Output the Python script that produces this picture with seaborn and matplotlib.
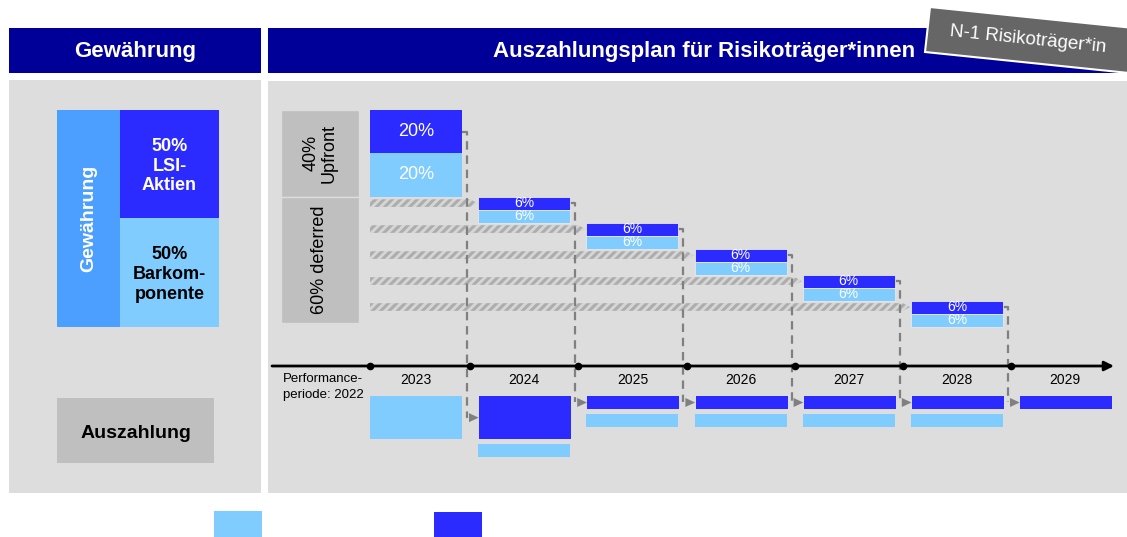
import numpy as np
import matplotlib
matplotlib.use("Agg")
import matplotlib.pyplot as plt
from matplotlib.patches import Rectangle, Polygon
import seaborn as sns

# ---------------- data ----------------
years = [2023, 2024, 2025, 2026, 2027, 2028, 2029]
grant_split = [50, 50]                      # LSI-Aktien, Barkomponente
grant_labels = ["50%\nLSI-\nAktien", "50%\nBarkom-\nponente"]
upfront_lsi = 20
upfront_cash = 20
deferred_years = [2024, 2025, 2026, 2027, 2028]
deferred_lsi = [6, 6, 6, 6, 6]
deferred_cash = [6, 6, 6, 6, 6]
payout_cash = [20, 6, 6, 6, 6, 6, 0]
payout_lsi = [0, 20, 6, 6, 6, 6, 6]
section_labels = ["40%\nUpfront", "60% deferred"]
section_sizes = [40, 60]

# ---------------- style ----------------
sns.set_theme(style="white")
plt.rcParams["font.family"] = ["Liberation Sans", "DejaVu Sans"]
plt.rcParams["text.color"] = "black"
plt.rcParams["hatch.linewidth"] = 2.2

NAVY = "#000099"
DARK = "#2b2bff"
LIGHT = "#80ccff"
MID = "#4d9fff"
PANEL = "#dddddd"
BOX = "#bfbfbf"
GREY = "#808080"

W, H = 1127, 537
fig = plt.figure(figsize=(W / 100, H / 100), dpi=100)
fig.patch.set_facecolor("white")

bg = fig.add_axes([0, 0, 1, 1])
bg.set_xlim(0, W)
bg.set_ylim(H, 0)
bg.axis("off")


def px_axes(x0, y0, x1, y1):
    return fig.add_axes([x0 / W, 1 - y1 / H, (x1 - x0) / W, (y1 - y0) / H])


# headers
bg.add_patch(Rectangle((9, 28), 252, 45, color=NAVY, lw=0))
bg.add_patch(Rectangle((268, 28), 859, 45, color=NAVY, lw=0))
bg.text(135, 51, "Gewährung", color="white", fontsize=16, fontweight="bold",
        ha="center", va="center")
bg.text(704, 51, "Auszahlungsplan für Risikoträger*innen", color="white",
        fontsize=16, fontweight="bold", ha="center", va="center")

# legend squares (cut at bottom)
bg.add_patch(Rectangle((214, 511), 48, 30, color=LIGHT, lw=0))
bg.add_patch(Rectangle((434, 512), 48, 30, color=DARK, lw=0))

# vertical scale: px per percent
PXP = 2.165
Y0 = 110


def ylims(top_px, bot_px):
    return (bot_px - Y0) / PXP, (top_px - Y0) / PXP


def yp(px):
    return (px - Y0) / PXP


# ---------------- left panel ----------------
la = px_axes(9, 80, 261, 493)
la.set_xlim(0, 252)
la.set_ylim(*ylims(80, 493))
la.axis("off")
la.add_patch(Rectangle((0, yp(80)), 252, 200, color=PANEL, zorder=0))
la.bar(48, sum(grant_split), bottom=0, width=63, align="edge", color=MID, lw=0, zorder=2)
la.text(79.5, sum(grant_split) / 2, "Gewährung", rotation=90, color="white",
        fontsize=14, fontweight="bold", ha="center", va="center", zorder=3)
bottoms = np.cumsum([0] + grant_split[:-1])
for b, h, lab, col, tcol in zip(bottoms, grant_split, grant_labels,
                                [DARK, LIGHT], ["white", "black"]):
    la.bar(111, h, bottom=b, width=99, align="edge", color=col, lw=0, zorder=2)
    la.text(160.5, b + h / 2 + 1, lab, color=tcol, fontsize=13, fontweight="bold",
            ha="center", va="center", linespacing=1.2, zorder=3)

la.add_patch(Rectangle((48, yp(398)), 157, 65 / PXP, color=BOX, lw=0, zorder=3))
la.text(126.5, yp(433), "Auszahlung", fontsize=14, fontweight="bold", color="black",
        ha="center", va="center", zorder=4)

# ---------------- right panel ----------------
ca = px_axes(268, 81, 1127, 493)
XPY = 108.2  # px per year
X0 = 370


def xv(px):
    return years[0] + (px - X0) / XPY


ca.set_xlim(xv(268), xv(1127))
ca.set_ylim(*ylims(81, 493))
ca.axis("off")
ca.add_patch(Rectangle((xv(268), yp(81)), 10, 200, color=PANEL, zorder=0))

BW = 92 / XPY
px1 = 1 / XPY

# section label boxes
sb = np.cumsum([0] + section_sizes[:-1])
for b, h, lab in zip(sb, section_sizes, section_labels):
    hh_ = h - (1.5 if h == 60 else 0)
    ca.bar(xv(281), hh_, bottom=b, width=78 / XPY, align="edge",
           color=BOX, edgecolor=PANEL, lw=1, zorder=2)
    ca.text(xv(320), b + hh_ / 2, lab, rotation=90, fontsize=13, color="black",
            ha="center", va="center", linespacing=1.05, zorder=3)

# upfront bars
ca.bar(years[0], upfront_lsi, bottom=0, width=BW, align="edge", color=DARK, lw=0, zorder=4)
ca.bar(years[0], upfront_cash, bottom=upfront_lsi, width=BW, align="edge", color=LIGHT,
       lw=0, zorder=4)
ca.text(years[0] + BW / 2, upfront_lsi / 2, f"{upfront_lsi}%", color="white",
        fontsize=13, ha="center", va="center", zorder=5)
ca.text(years[0] + BW / 2, upfront_lsi + upfront_cash / 2, f"{upfront_cash}%",
        color="white", fontsize=13, ha="center", va="center", zorder=5)

# payout geometry
P0 = yp(396)
GAP = 5 / PXP
TL = yp(366)

sources = [(years[0], upfront_lsi / 2)]
cum = upfront_lsi + upfront_cash
for yr, l, c in zip(deferred_years, deferred_lsi, deferred_cash):
    yc = cum + l / 2
    hh = 3.8 / PXP
    x0, x1 = years[0], yr - 1 * px1
    tip = 7 * px1
    poly = Polygon([(x0, yc - hh), (x1 - tip, yc - hh), (x1, yc), (x1 - tip, yc + hh),
                    (x0, yc + hh)], closed=True, facecolor="#d6d6d6",
                   edgecolor="#adadad", lw=0, hatch="////", zorder=2)
    ca.add_patch(poly)
    ca.bar(yr, l, bottom=cum, width=BW, align="edge", color=DARK,
           edgecolor="#e8e8e8", lw=0.6, zorder=4)
    ca.bar(yr, c, bottom=cum + l, width=BW, align="edge", color=LIGHT,
           edgecolor="#e8e8e8", lw=0.6, zorder=4)
    ca.text(yr + BW / 2, cum + l / 2, f"{l}%", color="white", fontsize=10,
            ha="center", va="center", zorder=5)
    ca.text(yr + BW / 2, cum + l + c / 2, f"{c}%", color="white", fontsize=10,
            ha="center", va="center", zorder=5)
    sources.append((yr, cum + l / 2))
    cum += l + c

# payout bars
for yr, c, l in zip(years, payout_cash, payout_lsi):
    top = P0
    if l > 0:
        ca.bar(yr + px1, l, bottom=top, width=BW, align="edge", color=DARK, lw=0, zorder=4)
        top = top + l + GAP
    if c > 0:
        ca.bar(yr, c, bottom=top, width=BW, align="edge", color=LIGHT, lw=0, zorder=4)

# dashed connectors + arrowheads
for (yr, ys) in sources:
    tgt = yr + 1
    l = payout_lsi[years.index(tgt)]
    yt = P0 + l / 2
    xe = yr + BW
    xl = xe + 5 * px1
    ca.plot([xe, xl, xl], [ys, ys, yt], color=GREY, lw=1.6, ls=(0, (3.8, 2.6)),
            zorder=3, solid_capstyle="butt")
    th = 4.5 / PXP
    ca.add_patch(Polygon([(xl + 2 * px1, yt - th), (tgt + 0.5 * px1, yt),
                          (xl + 2 * px1, yt + th)], closed=True, color=GREY, lw=0,
                         zorder=3))

# timeline
ca.annotate("", xy=(xv(1114), TL), xytext=(xv(272), TL),
            arrowprops=dict(arrowstyle="-|>", color="black", lw=2,
                            mutation_scale=14, shrinkA=0, shrinkB=0), zorder=6)
bounds = [years[0]] + [y - 8 * px1 for y in years[1:]]
ca.plot(bounds, [TL] * len(bounds), "o", color="black", ms=4.5, zorder=7)
for yr in years:
    ca.text(yr + BW / 2, yp(380), str(yr), fontsize=10, ha="center", color="black",
            va="center", zorder=6)
ca.text(xv(323), yp(387), "Performance-\nperiode: 2022", fontsize=9.5, color="black",
        ha="center", va="center", linespacing=1.35, zorder=6)

# tag on top of everything (drawn in a top overlay axes)
ov = fig.add_axes([0, 0, 1, 1], zorder=10)
ov.set_xlim(0, W)
ov.set_ylim(H, 0)
ov.axis("off")
ov.patch.set_alpha(0)
slope = 0.103
tag = Polygon([(930, 7), (1140, 7 + 210 * slope), (1140, 52 + 215 * slope), (925, 52)],
              closed=True, facecolor="#666666", edgecolor="white", lw=1.5)
ov.add_patch(tag)
ov.text(1028, 40, "N-1 Risikoträger*in", color="white", fontsize=13.5,
        rotation=-np.degrees(np.arctan(slope)), ha="center", va="center",
        rotation_mode="anchor")

fig.savefig("out.png", dpi=100, facecolor="white")
